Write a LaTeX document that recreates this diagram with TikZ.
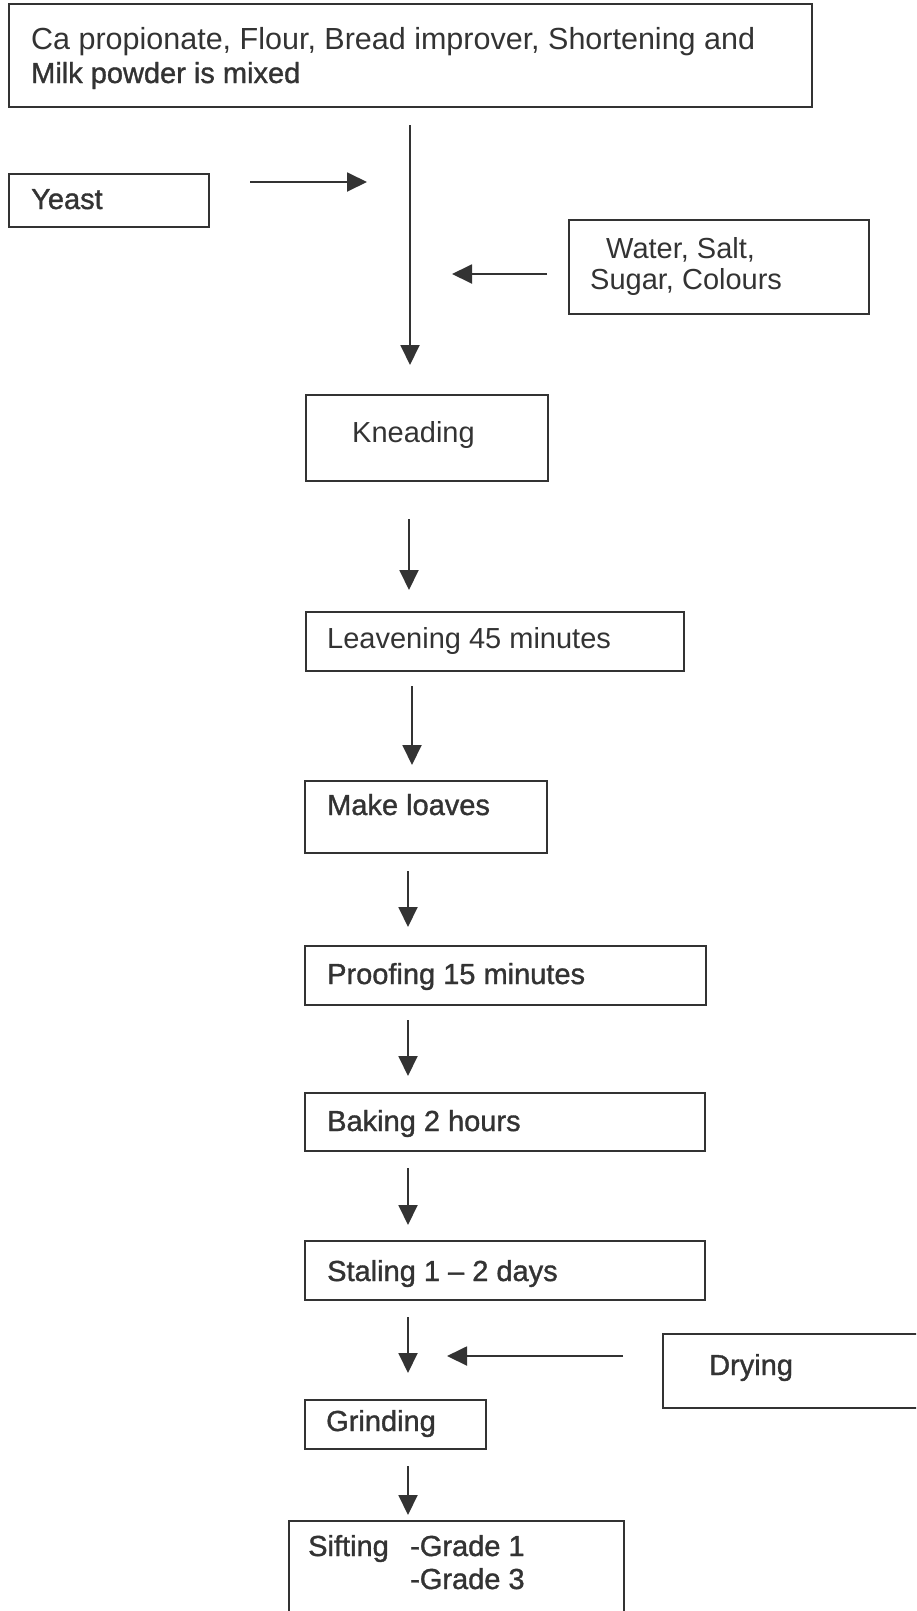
\documentclass[tikz,border=0pt]{standalone}
\usepackage{fontspec}
\setmainfont{Liberation Sans}
\newfontfamily\heavyfont{Liberation Sans}[FakeBold=1.2,Ligatures=TeX]
\usetikzlibrary{arrows.meta}
\definecolor{ink}{HTML}{333333}
\begin{document}
\begin{tikzpicture}[x=1pt,y=-1pt,
  box/.style={draw=ink, line width=1.9pt, anchor=north west, inner sep=0pt},
  lbl/.style={anchor=base west, inner sep=0pt, text=ink, font=\fontsize{29}{33}\selectfont},
  hlbl/.style={lbl, font=\heavyfont\fontsize{29}{33}\selectfont},
  flow/.style={draw=ink, line width=1.9pt, -{Triangle[length=20pt,width=19pt]}}]
\useasboundingbox (0,0) rectangle (916,1611);
\clip (0,0) rectangle (916,1611);
% boxes
\node[box, minimum width=803pt, minimum height=103pt] (mix) at (8,3) {};
\node[box, minimum width=200pt, minimum height=53pt] (yeast) at (8,173) {};
\node[box, minimum width=300pt, minimum height=94pt] (water) at (568,219) {};
\node[box, minimum width=242pt, minimum height=86pt] (knead) at (305,394) {};
\node[box, minimum width=378pt, minimum height=59pt] (leaven) at (305,611) {};
\node[box, minimum width=242pt, minimum height=72pt] (loaves) at (304,780) {};
\node[box, minimum width=401pt, minimum height=59pt] (proof) at (304,945) {};
\node[box, minimum width=400pt, minimum height=58pt] (bake) at (304,1092) {};
\node[box, minimum width=400pt, minimum height=59pt] (stale) at (304,1240) {};
\node[box, minimum width=280pt, minimum height=74pt] (dry) at (662,1333) {};
\node[box, minimum width=181pt, minimum height=49pt] (grind) at (304,1399) {};
\node[box, minimum width=335pt, minimum height=110pt] (sift) at (288,1520) {};
% labels
\node[lbl, font=\fontsize{30.5}{33}\selectfont] (t1) at (31,50) {Ca propionate, Flour, Bread improver, Shortening and};
\node[hlbl] (t2) at (31,83) {Milk powder is mixed};
\node[hlbl] (t3) at (31,209) {Yeast};
\node[lbl] (t4) at (606,258) {Water, Salt,};
\node[lbl] (t5) at (590,289) {Sugar, Colours};
\node[lbl] (t6) at (352,442) {Kneading};
\node[lbl] (t7) at (327,648) {Leavening 45 minutes};
\node[hlbl] (t8) at (327,815) {Make loaves};
\node[hlbl] (t9) at (327,984) {Proofing 15 minutes};
\node[hlbl] (t10) at (327,1131) {Baking 2 hours};
\node[hlbl] (t11) at (327,1281) {Staling 1 – 2 days};
\node[hlbl] (t12) at (709,1375) {Drying};
\node[hlbl] (t13) at (326,1431) {Grinding};
\node[hlbl] (t14) at (308,1556) {Sifting};
\node[hlbl] (t15) at (410,1556) {-Grade 1};
\node[hlbl] (t16) at (410,1589) {-Grade 3};
% connector ends
\coordinate (m1) at (410,125); \coordinate (m2) at (410,365);
\coordinate (y1) at (250,182); \coordinate (y2) at (367,182);
\coordinate (w1) at (547,274); \coordinate (w2) at (452,274);
\coordinate (a1s) at (409,519); \coordinate (a1e) at (409,590);
\coordinate (a2s) at (412,686); \coordinate (a2e) at (412,765);
\coordinate (a3s) at (408,871); \coordinate (a3e) at (408,927);
\coordinate (a4s) at (408,1020); \coordinate (a4e) at (408,1076);
\coordinate (a5s) at (408,1168); \coordinate (a5e) at (408,1225);
\coordinate (a6s) at (408,1317); \coordinate (a6e) at (408,1373);
\coordinate (d1) at (623,1356); \coordinate (d2) at (447,1356);
\coordinate (a7s) at (408,1466); \coordinate (a7e) at (408,1515);
% arrows
\draw[flow] (m1) -- (m2);
\draw[flow] (y1) -- (y2);
\draw[flow] (w1) -- (w2);
\draw[flow] (a1s) -- (a1e);
\draw[flow] (a2s) -- (a2e);
\draw[flow] (a3s) -- (a3e);
\draw[flow] (a4s) -- (a4e);
\draw[flow] (a5s) -- (a5e);
\draw[flow] (a6s) -- (a6e);
\draw[flow] (d1) -- (d2);
\draw[flow] (a7s) -- (a7e);
\end{tikzpicture}
\end{document}
